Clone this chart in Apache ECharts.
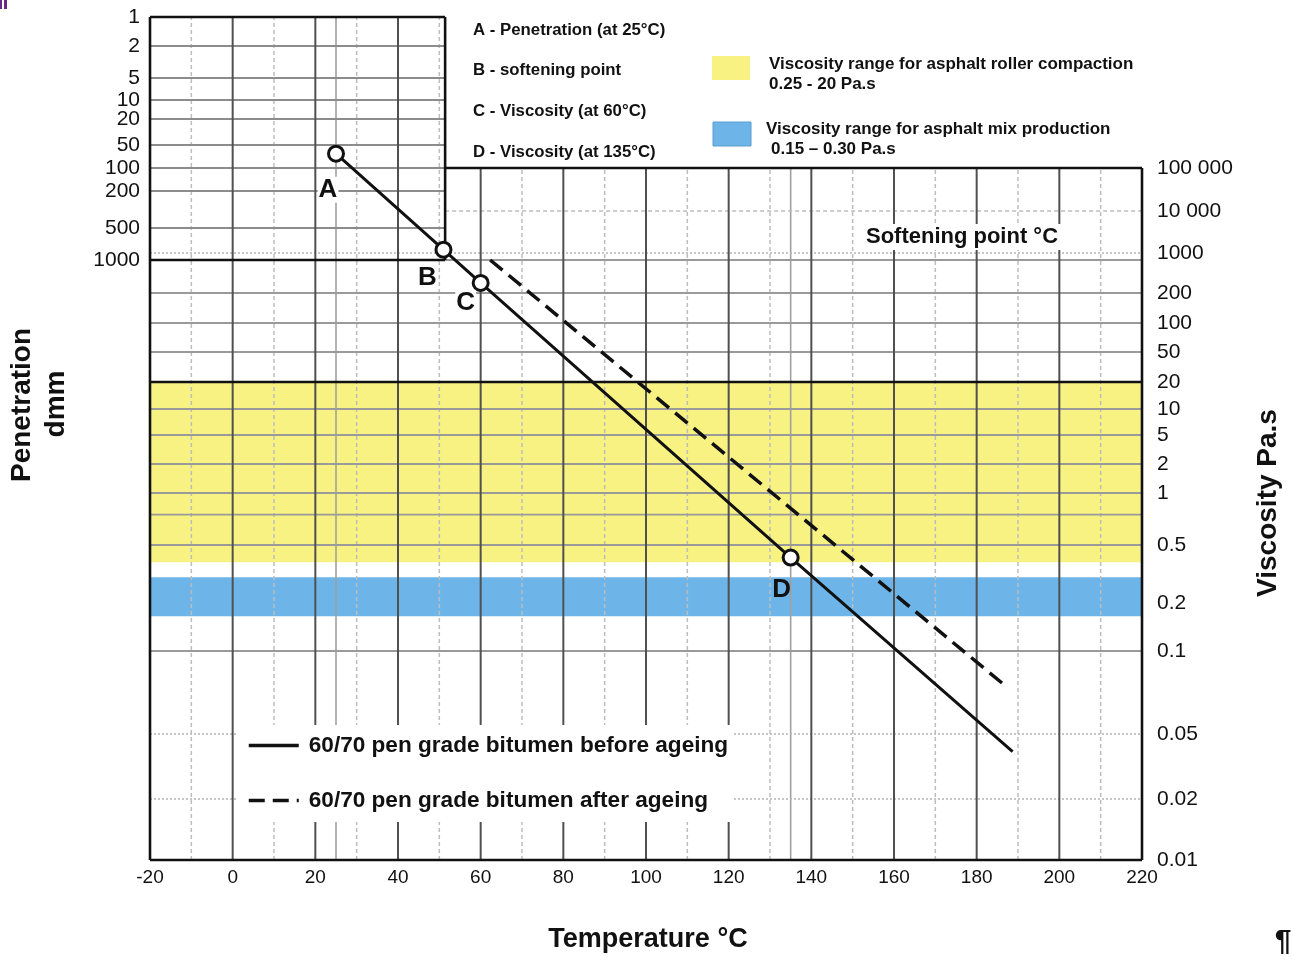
<!DOCTYPE html>
<html><head><meta charset="utf-8">
<script src="https://cdn.jsdelivr.net/npm/echarts@6/dist/echarts.min.js"></script>
<style>html,body{margin:0;padding:0;background:#fff}#chart{width:1293px;height:961px}</style>
</head><body><div id="chart"></div>
<script>
// ---------------- data ----------------
const penTicks = [1, 2, 5, 10, 20, 50, 100, 200, 500, 1000];
const viscTicks = [100000, 10000, 1000, 200, 100, 50, 20, 10, 5, 2, 1, 0.5, 0.2, 0.1, 0.05, 0.02, 0.01];
const viscTickLabels = ['100 000', '10 000', '1000', '200', '100', '50', '20', '10', '5', '2', '1', '0.5', '0.2', '0.1', '0.05', '0.02', '0.01'];

const pointNames = ['A', 'B', 'C', 'D'];
const pointTemps = [25, 51, 60, 135];          // °C
const pointValues = [65, 1200, 300, 0.41];     // A: penetration (dmm), B: softening-point level (Pa.s), C, D: viscosity (Pa.s)
const pointScales = ['pen', 'visc', 'visc', 'visc'];

const beforeEndTemp = 188.7;
const beforeEndVisc = 0.039;
const afterTemps = [62.3, 187.6];
const afterVisc = [755, 0.0734];

const rollerBand = [0.38, 20];   // Pa.s
const mixBand = [0.165, 0.30];   // Pa.s

const majorTempLines = [0, 20, 40, 60, 80, 100, 120, 140, 160, 180, 200];
const minorTempLines = [-10, 10, 30, 50, 70, 90, 110, 130, 150, 170, 190, 210];
const testTempLines = [25, 135];
const penGridLines = [2, 5, 10, 20, 50, 100, 200, 500];
const viscGridSolid = [200, 100, 50, 10, 5, 2, 1, 0.75, 0.5, 0.1];
const viscGridDotted = [0.05, 0.02];
const viscGridUpper = [10000];
const softeningLevel = 1000;

const seriesNames = ['60/70 pen grade bitumen before ageing', '60/70 pen grade bitumen after ageing'];

// ---------------- axis scale definition (layout) ----------------
const tempMin = -20, tempMax = 220, tempStep = 20;
const scaleMax = 843;
const penScalePos = [843, 814, 782, 760, 741, 715, 692, 669, 632, 600];
const viscScalePos = [692, 649, 607, 567, 537, 508, 478, 451, 425, 396, 367, 315, 257, 209, 126, 61, 0];
const penPanelMaxTemp = 51.4;
const pointLabelOffsets = [[-8, 36], [-16, 28], [-15, 20], [-9, 32]];
const pointLabelBg = ['#fff', '#fff', '#fff', 'transparent'];

function toUnit(v, ticks, pos) {
  const pts = ticks.map((t, i) => [Math.log10(t), pos[i]]).sort((a, b) => a[0] - b[0]);
  const lv = Math.log10(v);
  let i = 0;
  while (i < pts.length - 2 && lv > pts[i + 1][0]) i++;
  const a = pts[i], b = pts[i + 1];
  return a[1] + (lv - a[0]) / (b[0] - a[0]) * (b[1] - a[1]);
}
const pen = v => toUnit(v, penTicks, penScalePos);
const visc = v => toUnit(v, viscTicks, viscScalePos);
const unitOf = (v, s) => s === 'pen' ? pen(v) : visc(v);

function nearestLabel(v, units, labels) {
  let best = 0, d = Infinity;
  units.forEach((u, i) => { const dd = Math.abs(u - v); if (dd < d) { d = dd; best = i; } });
  return d < 0.5 ? labels[best] : '';
}
const penUnits = penTicks.map(pen);
const viscUnits = viscTicks.map(visc);

const FONT = '"Liberation Sans", Arial, Helvetica, sans-serif';

// ---------------- series builders ----------------
function segSeries(name, data, style, z) {
  return {
    type: 'custom', name, silent: true, z, data,
    renderItem: (params, api) => {
      const p1 = api.coord([api.value(0), api.value(1)]);
      const p2 = api.coord([api.value(2), api.value(3)]);
      return { type: 'line', shape: { x1: p1[0], y1: p1[1], x2: p2[0], y2: p2[1] },
        style: Object.assign({ fill: null }, style) };
    }
  };
}
function bandSeries(name, data, fill, z) {
  return {
    type: 'custom', name, silent: true, z, data,
    renderItem: (params, api) => {
      const p1 = api.coord([api.value(0), api.value(1)]);
      const p2 = api.coord([api.value(2), api.value(3)]);
      return { type: 'rect', shape: { x: p1[0], y: p2[1], width: p2[0] - p1[0], height: p1[1] - p2[1] },
        style: { fill } };
    }
  };
}

const bottomUnit = visc(viscTicks[viscTicks.length - 1]);
const topUnit = t => t <= penPanelMaxTemp ? pen(penTicks[0]) : visc(viscTicks[0]);

const vMajor = majorTempLines.map(t => [t, bottomUnit, t, topUnit(t)]);
const vMinor = minorTempLines.map(t => [t, bottomUnit, t, topUnit(t)]);
const vTest = testTempLines.map(t => [t, bottomUnit, t, topUnit(t)]);
const hPen = penGridLines.map(p => [tempMin, pen(p), penPanelMaxTemp, pen(p)]);
const hVisc = viscGridSolid.map(v => [tempMin, visc(v), tempMax, visc(v)])
  .concat([[penPanelMaxTemp, pen(penTicks[penTicks.length - 1]), tempMax, pen(penTicks[penTicks.length - 1])]]);
const hDotted = viscGridDotted.map(v => [tempMin, visc(v), tempMax, visc(v)])
  .concat([[tempMin, visc(softeningLevel), tempMax, visc(softeningLevel)]]);
const hUpper = viscGridUpper.map(v => [penPanelMaxTemp, visc(v), tempMax, visc(v)]);

const pTop = pen(penTicks[0]), pBot = pen(penTicks[penTicks.length - 1]), vTop = visc(viscTicks[0]);
const borders = [
  [tempMin, bottomUnit, tempMin, pTop],
  [tempMin, pTop, penPanelMaxTemp, pTop],
  [penPanelMaxTemp, pTop, penPanelMaxTemp, pBot],
  [tempMin, pBot, penPanelMaxTemp, pBot],
  [penPanelMaxTemp, vTop, tempMax, vTop],
  [tempMax, vTop, tempMax, bottomUnit],
  [tempMin, bottomUnit, tempMax, bottomUnit],
  [tempMin, visc(rollerBand[1]), tempMax, visc(rollerBand[1])]
];

const beforeData = pointTemps.map((t, i) => [t, unitOf(pointValues[i], pointScales[i])])
  .concat([[beforeEndTemp, visc(beforeEndVisc)]]);
const afterData = afterTemps.map((t, i) => [t, visc(afterVisc[i])]);
const pointData = pointTemps.map((t, i) => ({
  name: pointNames[i],
  value: [t, unitOf(pointValues[i], pointScales[i])],
  label: { offset: pointLabelOffsets[i], backgroundColor: pointLabelBg[i] }
}));

function txt(text, x, y, size, opts) {
  opts = opts || {};
  const align = opts.align || 'left';
  const st = {
    text, fill: opts.color || '#111',
    font: (opts.weight || 'bold') + ' ' + size + 'px ' + FONT,
    align, verticalAlign: 'middle', textAlign: align, textVerticalAlign: 'middle'
  };
  if (opts.bg) { st.backgroundColor = opts.bg; st.padding = [2, 4]; }
  return { type: 'text', x, y, rotation: opts.rot || 0, z: 100, style: st };
}

const option = {
  animation: false,
  backgroundColor: '#fff',
  grid: { left: 150, right: 151, top: 17, bottom: 101 },
  xAxis: {
    type: 'value', min: tempMin, max: tempMax, interval: tempStep,
    axisLine: { show: false }, axisTick: { show: false }, splitLine: { show: false },
    axisLabel: { fontSize: 19, color: '#111', margin: 8, fontFamily: FONT }
  },
  yAxis: [
    {
      type: 'value', min: 0, max: scaleMax, position: 'left',
      axisLine: { show: false }, axisTick: { show: false }, splitLine: { show: false },
      axisLabel: {
        customValues: penUnits, fontSize: 21, color: '#111', margin: 10, fontFamily: FONT,
        formatter: v => nearestLabel(v, penUnits, penTicks.map(String))
      }
    },
    {
      type: 'value', min: 0, max: scaleMax, position: 'right',
      axisLine: { show: false }, axisTick: { show: false }, splitLine: { show: false },
      axisLabel: {
        customValues: viscUnits, fontSize: 21, color: '#111', margin: 15, fontFamily: FONT,
        formatter: v => nearestLabel(v, viscUnits, viscTickLabels)
      }
    }
  ],
  legend: {
    orient: 'vertical', left: 238, top: 725, z: 10,
    backgroundColor: '#fff', padding: [9, 5, 10, 9],
    itemWidth: 50, itemHeight: 14, itemGap: 32,
    itemStyle: { opacity: 0 },
    lineStyle: { width: 3.5 },
    textStyle: { fontSize: 22.6, fontWeight: 'bold', color: '#111', fontFamily: FONT, lineHeight: 22, padding: [0, 0, 0, 5] },
    data: seriesNames
  },
  series: [
    bandSeries('roller', [[tempMin, visc(rollerBand[0]), tempMax, visc(rollerBand[1])]], '#f7f281', 1),
    bandSeries('mix', [[tempMin, visc(mixBand[0]), tempMax, visc(mixBand[1])]], '#6db5e8', 1),
    segSeries('minorV', vMinor, { stroke: '#bdbdbd', lineWidth: 1.5, lineDash: [4, 3] }, 2),
    segSeries('testV', vTest, { stroke: '#a0a0a0', lineWidth: 1.6 }, 2),
    segSeries('penH', hPen, { stroke: '#8c8c8c', lineWidth: 2 }, 2),
    segSeries('viscH', hVisc, { stroke: '#9a9a9a', lineWidth: 1.8 }, 2),
    segSeries('dottedH', hDotted, { stroke: '#b4b4b4', lineWidth: 1.5, lineDash: [2, 2] }, 2),
    segSeries('upperH', hUpper, { stroke: '#bdbdbd', lineWidth: 1.5, lineDash: [4, 3] }, 2),
    segSeries('majorV', vMajor, { stroke: '#505050', lineWidth: 2 }, 2),
    segSeries('border', borders, { stroke: '#111', lineWidth: 2.6 }, 3),
    {
      type: 'line', name: seriesNames[0], data: beforeData, z: 4, symbol: 'none',
      lineStyle: { color: '#111', width: 3 }, itemStyle: { color: '#111' }
    },
    {
      type: 'line', name: seriesNames[1], data: afterData, z: 4, symbol: 'none',
      lineStyle: { color: '#111', width: 3.5, type: [16, 8] }, itemStyle: { color: '#111' }
    },
    {
      type: 'scatter', name: 'points', data: pointData, z: 5,
      symbol: 'circle', symbolSize: 15,
      itemStyle: { color: '#fff', borderColor: '#111', borderWidth: 3, opacity: 1 },
      label: { show: true, position: 'inside', formatter: '{b}', fontSize: 26, fontWeight: 'bold', color: '#111', fontFamily: FONT, padding: [0, 1] }
    }
  ],
  graphic: [
    txt('A - Penetration (at 25°C)', 473, 30, 16.8),
    txt('B - softening point', 473, 70, 16.8),
    txt('C - Viscosity (at 60°C)', 473, 111, 16.8),
    txt('D - Viscosity (at 135°C)', 473, 152, 16.8),
    { type: 'rect', shape: { x: 712, y: 56, width: 38, height: 24 }, style: { fill: '#f7f281' }, z: 100 },
    { type: 'rect', shape: { x: 713, y: 122, width: 38, height: 24 }, style: { fill: '#6db5e8', stroke: '#5a9ccc', lineWidth: 1 }, z: 100 },
    txt('Viscosity range for asphalt roller compaction', 769, 64, 17),
    txt('0.25 - 20 Pa.s', 769, 84, 17),
    txt('Viscosity range for asphalt mix production', 766, 129, 17),
    txt('0.15 – 0.30 Pa.s', 771, 149, 17),
    txt('Softening point °C', 962, 237, 22, { align: 'center', bg: '#fff' }),
    txt('Penetration', 22, 405, 28, { align: 'center', rot: Math.PI / 2 }),
    txt('dmm', 56, 404, 28, { align: 'center', rot: Math.PI / 2 }),
    txt('Viscosity Pa.s', 1268, 503, 28, { align: 'center', rot: Math.PI / 2 }),
    txt('Temperature °C', 648, 940, 27, { align: 'center' }),
    txt('¶', 1283, 942, 30, { align: 'center' }),
    { type: 'rect', shape: { x: 0, y: 0, width: 2, height: 9 }, style: { fill: '#6b2a8a' }, z: 100 },
    { type: 'rect', shape: { x: 4, y: 0, width: 3, height: 9 }, style: { fill: '#6b2a8a' }, z: 100 }
  ]
};

const chart = echarts.init(document.getElementById('chart'));
chart.setOption(option);
</script>
</body></html>
